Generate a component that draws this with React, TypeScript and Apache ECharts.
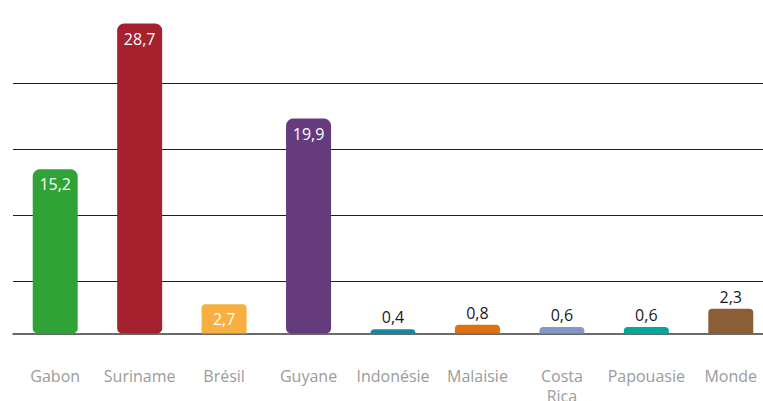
import React, { useEffect, useRef } from "react";
import * as echarts from "echarts";

const categories = ["Gabon", "Suriname", "Brésil", "Guyane", "Indonésie", "Malaisie", "Costa Rica", "Papouasie", "Monde"];
const values = [15.2, 28.7, 2.7, 19.9, 0.4, 0.8, 0.6, 0.6, 2.3];
const barColors = ["#2fa336", "#a5212e", "#f7b03f", "#663b7e", "#0f89a5", "#e0700f", "#8497c7", "#00a99c", "#8b5f36"];

const FONT = "'Open Sans', 'Noto Sans', sans-serif";

export default function App() {
  const ref = useRef<HTMLDivElement>(null);
  useEffect(() => {
    const chart = echarts.init(ref.current!, null, { renderer: "svg" });
    const fmt = (v: number) => v.toFixed(1).replace(".", ",");
    chart.setOption({
      animation: false,
      backgroundColor: "#ffffff",
      grid: { left: 13, right: -10, top: 20, bottom: 54, containLabel: false, outerBoundsMode: "none" },
      xAxis: {
        type: "category",
        data: categories,
        axisLine: { onZero: true, lineStyle: { color: "#3a3a3a", width: 1.5 } },
        axisTick: { show: false },
        axisLabel: {
          color: "#9b9b9b",
          fontSize: 16,
          fontFamily: FONT,
          margin: 19,
          lineHeight: 20,
          interval: 0,
          hideOverlap: false,
          formatter: (v: string) => v.replace(" ", "\n"),
        },
      },
      yAxis: [
        { type: "value", min: -1.25, max: 29.03, show: false },
        {
          type: "value",
          min: -1,
          max: 3.9545,
          interval: 1,
          axisLine: { show: false },
          axisTick: { show: false },
          axisLabel: { show: false },
          splitLine: {
            show: true,
            showMinLine: false,
            showMaxLine: false,
            lineStyle: { color: "#1e1e1e", width: 1 },
          },
        },
      ],
      series: [
        {
          type: "bar",
          yAxisIndex: 0,
          barWidth: 45,
          data: values.map((v, i) => {
            const inside = v > 2.5;
            return {
              value: v,
              itemStyle: {
                color: barColors[i],
                borderRadius: v > 10 ? [7, 7, 5, 5] : [4, 4, 0, 0],
              },
              label: {
                show: true,
                position: inside ? "insideTop" : "top",
                distance: inside ? 7 : 4,
                color: inside ? "#ffffff" : "#1a1a1a",
                fontSize: 16,
                fontFamily: FONT,
                formatter: () => fmt(v),
              },
            };
          }),
        },
      ],
    });
    return () => chart.dispose();
  }, []);
  return (
    <div
      ref={ref}
      style={{ position: "fixed", left: 0, top: 0, width: 763, height: 401, background: "#fff" }}
    />
  );
}
